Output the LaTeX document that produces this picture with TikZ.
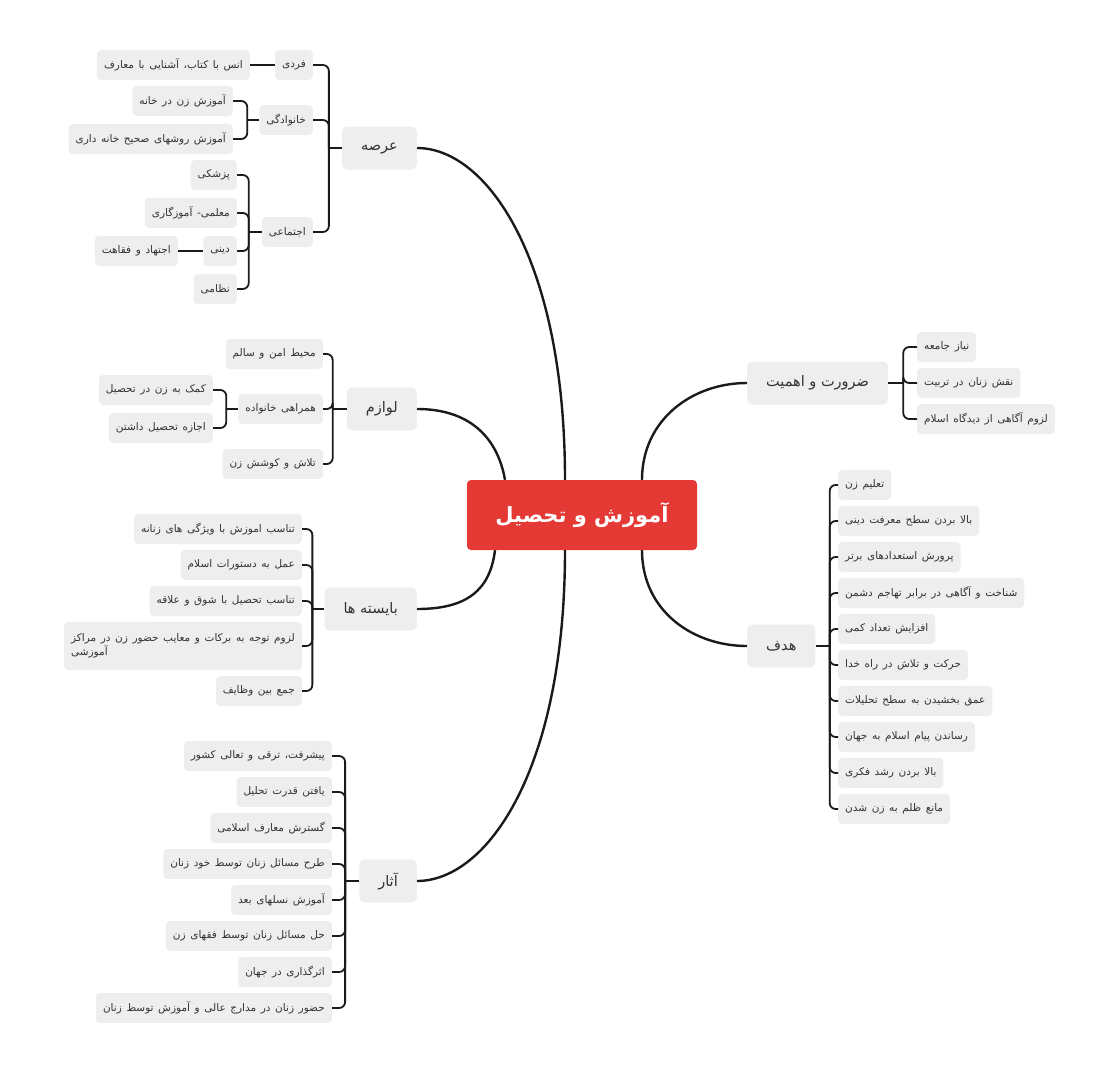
\documentclass[tikz,border=0pt]{standalone}
\usepackage{fontspec}
\usepackage{tikz}
\usetikzlibrary{positioning,calc}
\TeXXeTstate=1
\newfontfamily\arabicfont[Script=Arabic]{DejaVu Sans}
\definecolor{rootred}{RGB}{229,57,53}
\definecolor{nodegray}{RGB}{238,238,238}
\definecolor{linkdark}{RGB}{26,26,26}
\definecolor{textdark}{RGB}{51,51,51}
\newcommand{\fatext}[1]{\arabicfont\beginR #1\endR}
\newcommand{\leaffont}{\arabicfont\fontsize{10.5}{14}\selectfont\spaceskip=4.6pt plus 1pt\relax}

\begin{document}
\begin{tikzpicture}[
    x=1pt, y=-1pt,
    root/.style={rectangle, rounded corners=4pt, fill=rootred, text=white, font=\arabicfont\bfseries\fontsize{21}{25}\selectfont, minimum width=230pt, minimum height=70pt},
    branch/.style={rectangle, rounded corners=5pt, fill=nodegray, text=textdark, font=\arabicfont\fontsize{14.5}{17}\selectfont, minimum height=43pt, inner xsep=19pt},
    leaf/.style={rectangle, rounded corners=4pt, fill=nodegray, text=textdark, font=\leaffont, minimum height=30pt, inner xsep=7pt},
    link/.style={draw=linkdark, line width=2.4pt},
    bracket/.style={draw=linkdark, line width=1.8pt, rounded corners=6pt}
  ]
    \useasboundingbox (0,0) rectangle (1101,1073);

    % center and main branches
    \node[root] (topic) at (582,515) {\fatext{آموزش و تحصیل}};
    \node[branch, anchor=east] (arsa) at (417,148) {\fatext{عرصه}};
    \node[branch, anchor=east] (lavazem) at (417,409) {\fatext{لوازم}};
    \node[branch, anchor=east] (bayeste) at (417,609) {\fatext{بایسته ها}};
    \node[branch, anchor=east] (asar) at (417,881) {\fatext{آثار}};
    \node[branch, anchor=west] (zarurat) at (747,383) {\fatext{ضرورت و اهمیت}};
    \node[branch, anchor=west] (hadaf) at (747,646) {\fatext{هدف}};

    \draw[link] ($(topic.north)+(-17,0)$) .. controls +(0,-220) and +(70,0) .. (arsa.east);
    \draw[link] ($(topic.north)+(-77,0)$) .. controls +(-8,-45) and +(50,0) .. (lavazem.east);
    \draw[link] ($(topic.south)+(-87,0)$) .. controls +(-5,40) and +(50,0) .. (bayeste.east);
    \draw[link] ($(topic.south)+(-17,0)$) .. controls +(0,220) and +(70,0) .. (asar.east);
    \draw[link] ($(topic.north)+(60,0)$) .. controls +(0,-60) and +(-55,0) .. (zarurat.west);
    \draw[link] ($(topic.south)+(60,0)$) .. controls +(0,60) and +(-55,0) .. (hadaf.west);

    % arsa
    \node[leaf, anchor=east] (fardi) at (313,65) {\fatext{فردی}};
    \node[leaf, anchor=east] (ons) at (250,65) {\fatext{انس با کتاب، آشنایی با معارف}};
    \node[leaf, anchor=east] (khanevadegi) at (313,120) {\fatext{خانوادگی}};
    \node[leaf, anchor=east] (amuzkhane) at (233,101) {\fatext{آموزش زن در خانه}};
    \node[leaf, anchor=east] (khanedari) at (233,139) {\fatext{آموزش روشهای صحیح خانه داری}};
    \node[leaf, anchor=east] (ejtemai) at (313,232) {\fatext{اجتماعی}};
    \node[leaf, anchor=east] (pezeshki) at (237,175) {\fatext{پزشکی}};
    \node[leaf, anchor=east] (moallemi) at (237,213) {\fatext{معلمی- آموزگاری}};
    \node[leaf, anchor=east] (dini) at (237,251) {\fatext{دینی}};
    \node[leaf, anchor=east] (ejtehad) at (178,251) {\fatext{اجتهاد و فقاهت}};
    \node[leaf, anchor=east] (nezami) at (237,289) {\fatext{نظامی}};

    \coordinate (arsaJ) at ($(arsa.west)+(-13,0)$);
    \draw[bracket] (arsa.west) -- (arsaJ);
    \foreach \n in {fardi,khanevadegi,ejtemai}
      \draw[bracket] (arsaJ) |- (\n.east);
    \draw[bracket] (fardi.west) -- (ons.east);
    \coordinate (khanevadegiJ) at ($(khanevadegi.west)+(-12,0)$);
    \draw[bracket] (khanevadegi.west) -- (khanevadegiJ);
    \foreach \n in {amuzkhane,khanedari}
      \draw[bracket] (khanevadegiJ) |- (\n.east);
    \coordinate (ejtemaiJ) at ($(ejtemai.west)+(-13,0)$);
    \draw[bracket] (ejtemai.west) -- (ejtemaiJ);
    \foreach \n in {pezeshki,moallemi,dini,nezami}
      \draw[bracket] (ejtemaiJ) |- (\n.east);
    \draw[bracket] (dini.west) -- (ejtehad.east);

    % lavazem
    \node[leaf, anchor=east] (mohit) at (323,354) {\fatext{محیط امن و سالم}};
    \node[leaf, anchor=east] (hamrahi) at (323,409) {\fatext{همراهی خانواده}};
    \node[leaf, anchor=east] (komak) at (213,390) {\fatext{کمک به زن در تحصیل}};
    \node[leaf, anchor=east] (ejaze) at (213,428) {\fatext{اجازه تحصیل داشتن}};
    \node[leaf, anchor=east] (talash) at (323,464) {\fatext{تلاش و کوشش زن}};

    \coordinate (lavazemJ) at ($(lavazem.west)+(-14,0)$);
    \draw[bracket] (lavazem.west) -- (lavazemJ);
    \foreach \n in {mohit,hamrahi,talash}
      \draw[bracket] (lavazemJ) |- (\n.east);
    \coordinate (hamrahiJ) at ($(hamrahi.west)+(-12,0)$);
    \draw[bracket] (hamrahi.west) -- (hamrahiJ);
    \foreach \n in {komak,ejaze}
      \draw[bracket] (hamrahiJ) |- (\n.east);

    % bayeste
    \node[leaf, anchor=east] (tanasob) at (302,529) {\fatext{تناسب اموزش با ویژگی های زنانه}};
    \node[leaf, anchor=east] (amal) at (302,565) {\fatext{عمل به دستورات اسلام}};
    \node[leaf, anchor=east] (shogh) at (302,601) {\fatext{تناسب تحصیل با شوق و علاقه}};
    \node[leaf, anchor=east, align=left, minimum height=48pt] (lozum) at (302,646)
      {\fatext{لزوم توجه به برکات و معایب حضور زن در مراکز}\\\fatext{آموزشی}};
    \node[leaf, anchor=east] (jam) at (302,691) {\fatext{جمع بین وظایف}};

    \coordinate (bayesteJ) at ($(bayeste.west)+(-12,0)$);
    \draw[bracket] (bayeste.west) -- (bayesteJ);
    \foreach \n in {tanasob,amal,shogh,lozum,jam}
      \draw[bracket] (bayesteJ) |- (\n.east);

    % asar
    \node[leaf, anchor=east] (pishraft) at (332,756) {\fatext{پیشرفت، ترقی و تعالی کشور}};
    \node[leaf, anchor=east] (tahlil) at (332,792) {\fatext{یافتن قدرت تحلیل}};
    \node[leaf, anchor=east] (gostaresh) at (332,828) {\fatext{گسترش معارف اسلامی}};
    \node[leaf, anchor=east] (tarh) at (332,864) {\fatext{طرح مسائل زنان توسط خود زنان}};
    \node[leaf, anchor=east] (nasl) at (332,900) {\fatext{آموزش نسلهای بعد}};
    \node[leaf, anchor=east] (hal) at (332,936) {\fatext{حل مسائل زنان توسط فقهای زن}};
    \node[leaf, anchor=east] (asargozari) at (332,972) {\fatext{اثرگذاری در جهان}};
    \node[leaf, anchor=east] (hozur) at (332,1008) {\fatext{حضور زنان در مدارج عالی و آموزش توسط زنان}};

    \coordinate (asarJ) at ($(asar.west)+(-14,0)$);
    \draw[bracket] (asar.west) -- (asarJ);
    \foreach \n in {pishraft,tahlil,gostaresh,tarh,nasl,hal,asargozari,hozur}
      \draw[bracket] (asarJ) |- (\n.east);

    % zarurat
    \node[leaf, anchor=west] (niaz) at (917,347) {\fatext{نیاز جامعه}};
    \node[leaf, anchor=west] (naghsh) at (917,383) {\fatext{نقش زنان در تربیت}};
    \node[leaf, anchor=west] (agahi) at (917,419) {\fatext{لزوم آگاهی از دیدگاه اسلام}};

    \coordinate (zaruratJ) at ($(zarurat.east)+(15,0)$);
    \draw[bracket] (zarurat.east) -- (zaruratJ);
    \foreach \n in {niaz,naghsh,agahi}
      \draw[bracket] (zaruratJ) |- (\n.west);

    % hadaf
    \node[leaf, anchor=west] (talim) at (838,485) {\fatext{تعلیم زن}};
    \node[leaf, anchor=west] (marefat) at (838,521) {\fatext{بالا بردن سطح معرفت دینی}};
    \node[leaf, anchor=west] (parvaresh) at (838,557) {\fatext{پرورش استعدادهای برتر}};
    \node[leaf, anchor=west] (shenakht) at (838,593) {\fatext{شناخت و آگاهی در برابر تهاجم دشمن}};
    \node[leaf, anchor=west] (afzayesh) at (838,629) {\fatext{افزایش تعداد کمی}};
    \node[leaf, anchor=west] (harekat) at (838,665) {\fatext{حرکت و تلاش در راه خدا}};
    \node[leaf, anchor=west] (omgh) at (838,701) {\fatext{عمق بخشیدن به سطح تحلیلات}};
    \node[leaf, anchor=west] (payam) at (838,737) {\fatext{رساندن پیام اسلام به جهان}};
    \node[leaf, anchor=west] (roshd) at (838,773) {\fatext{بالا بردن رشد فکری}};
    \node[leaf, anchor=west] (zolm) at (838,809) {\fatext{مانع ظلم به زن شدن}};

    \coordinate (hadafJ) at ($(hadaf.east)+(14,0)$);
    \draw[bracket] (hadaf.east) -- (hadafJ);
    \foreach \n in {talim,marefat,parvaresh,shenakht,afzayesh,harekat,omgh,payam,roshd,zolm}
      \draw[bracket] (hadafJ) |- (\n.west);
  \end{tikzpicture}
\end{document}
